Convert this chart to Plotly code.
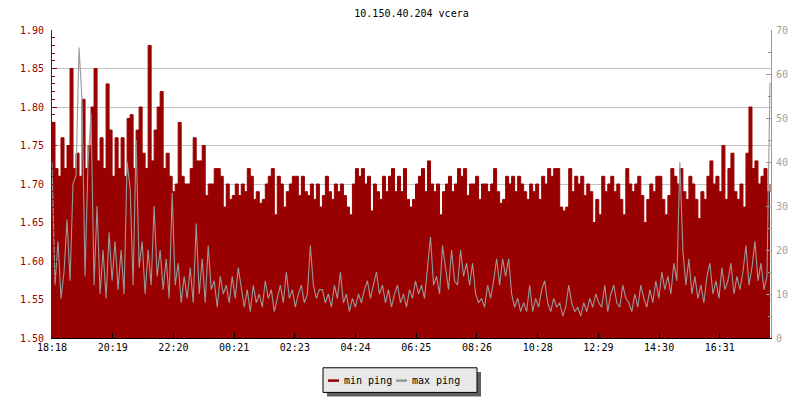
import plotly.graph_objects as go

# min ping (ms, left axis), one sample every 6 minutes starting 18:18
MIN_PING = [
    1.78, 1.72, 1.71, 1.76, 1.72, 1.75, 1.85, 1.72, 1.74, 1.71, 1.81, 1.72,
    1.75, 1.80, 1.85, 1.73, 1.76, 1.72, 1.83, 1.77, 1.71, 1.76, 1.72, 1.76,
    1.71, 1.785, 1.79, 1.72, 1.77, 1.80, 1.74, 1.72, 1.88, 1.73, 1.77, 1.80,
    1.82, 1.72, 1.74, 1.71, 1.69, 1.70, 1.78, 1.71, 1.70, 1.70, 1.72, 1.76,
    1.73, 1.73, 1.75, 1.685, 1.70, 1.70, 1.72, 1.72, 1.71, 1.67, 1.70, 1.68,
    1.685, 1.70, 1.685, 1.70, 1.69, 1.72, 1.71, 1.68, 1.69, 1.675, 1.68, 1.70,
    1.71, 1.72, 1.66, 1.71, 1.70, 1.67, 1.69, 1.70, 1.71, 1.71, 1.685, 1.71,
    1.69, 1.685, 1.70, 1.68, 1.70, 1.67, 1.685, 1.71, 1.69, 1.68, 1.70, 1.69,
    1.70, 1.685, 1.67, 1.66, 1.70, 1.72, 1.71, 1.72, 1.70, 1.71, 1.665, 1.70,
    1.69, 1.68, 1.71, 1.69, 1.71, 1.72, 1.69, 1.71, 1.69, 1.72, 1.68, 1.67,
    1.68, 1.70, 1.71, 1.72, 1.69, 1.73, 1.70, 1.69, 1.70, 1.66, 1.69, 1.70,
    1.71, 1.69, 1.70, 1.72, 1.71, 1.72, 1.685, 1.70, 1.70, 1.71, 1.68, 1.70,
    1.70, 1.69, 1.70, 1.72, 1.69, 1.675, 1.68, 1.71, 1.70, 1.71, 1.69, 1.71,
    1.70, 1.69, 1.68, 1.70, 1.69, 1.70, 1.68, 1.71, 1.70, 1.72, 1.71, 1.72,
    1.72, 1.67, 1.665, 1.67, 1.72, 1.69, 1.71, 1.70, 1.71, 1.685, 1.70, 1.69,
    1.65, 1.68, 1.66, 1.71, 1.69, 1.70, 1.71, 1.69, 1.70, 1.68, 1.66, 1.72,
    1.70, 1.69, 1.70, 1.71, 1.685, 1.65, 1.68, 1.70, 1.69, 1.71, 1.71, 1.68,
    1.66, 1.685, 1.72, 1.71, 1.70, 1.72, 1.69, 1.68, 1.71, 1.70, 1.68, 1.655,
    1.69, 1.68, 1.71, 1.73, 1.70, 1.71, 1.69, 1.75, 1.68, 1.72, 1.74, 1.69,
    1.68, 1.70, 1.67, 1.74, 1.80, 1.72, 1.73, 1.70, 1.71, 1.72, 1.69, 1.70,
]

# max ping (ms, right axis), same samples
MAX_PING = [
    40, 12, 22, 9, 15, 27, 13, 35, 37, 66, 54, 14,
    40, 51, 12, 30, 10, 20, 9, 24, 13, 22, 11, 20,
    10, 40, 34, 12, 45, 16, 22, 10, 20, 12, 30, 14,
    20, 11, 18, 9, 33, 12, 17, 8, 14, 9, 16, 8,
    26, 10, 18, 8, 21, 11, 13, 7, 14, 10, 12, 8,
    14, 9, 16, 12, 7, 11, 6, 12, 8, 10, 7, 13,
    9, 11, 6, 9, 12, 8, 15, 9, 11, 7, 10, 12,
    8, 10, 21, 12, 9, 11, 11, 8, 10, 7, 12, 9,
    15, 8, 10, 6, 9, 7, 10, 8, 11, 13, 9, 12,
    15, 10, 12, 8, 11, 7, 10, 12, 8, 10, 7, 11,
    9, 13, 10, 12, 9, 16, 23, 12, 14, 10, 21, 16,
    11, 20, 13, 12, 20, 14, 17, 12, 17, 10, 8, 9,
    7, 12, 9, 13, 18, 12, 18, 14, 18, 10, 7, 9,
    6, 8, 6, 12, 6, 9, 7, 11, 13, 8, 6, 9,
    7, 8, 5, 7, 12, 8, 6, 7, 5, 8, 6, 9,
    7, 10, 8, 7, 12, 6, 10, 12, 8, 7, 12, 9,
    8, 6, 10, 7, 12, 9, 7, 11, 8, 13, 9, 15,
    11, 14, 10, 17, 13, 40, 20, 12, 18, 10, 14, 9,
    12, 8, 14, 17, 10, 13, 9, 16, 11, 13, 17, 10,
    14, 11, 15, 21, 12, 16, 22, 13, 17, 11, 14, 58,
]

SAMPLE_MINUTES = 6
X_TICK_LABELS = ["18:18", "20:19", "22:20", "00:21", "02:23", "04:24",
                 "06:25", "08:26", "10:28", "12:29", "14:30", "16:31"]
X_TICK_STEP = 121.25  # minutes between the time labels
LEFT_TICKS = [1.50, 1.55, 1.60, 1.65, 1.70, 1.75, 1.80, 1.85, 1.90]
RIGHT_TICKS = [0, 10, 20, 30, 40, 50, 60, 70]

RED = "#990000"
GRAY = "#999999"
FONT = "DejaVu Sans Mono"

# the page adds an 8px body margin, so the figure is drawn 8px smaller
PAGE_OFFSET = 8
FIG_W, FIG_H = 800 - PAGE_OFFSET, 400 - PAGE_OFFSET
# plot area in page pixels, used to place the hand-drawn legend
PLOT_L, PLOT_R, PLOT_T, PLOT_B = 51, 770, 30, 330


def px(x):
    return (x - PLOT_L) / (PLOT_R - PLOT_L)


def py(y):
    return (PLOT_B - y) / (PLOT_B - PLOT_T)


minutes = [i * SAMPLE_MINUTES for i in range(len(MIN_PING))]

fig = go.Figure()
fig.add_trace(go.Scatter(
    x=minutes, y=MIN_PING, name="min ping", mode="lines",
    line=dict(color=RED, width=1, shape="hv"),
    fill="tozeroy", fillcolor=RED,
))
fig.add_trace(go.Scatter(
    x=minutes, y=MAX_PING, name="max ping", mode="lines", yaxis="y2",
    line=dict(color=GRAY, width=1.1),
))

# legend box drawn by hand (with drop shadow)
fig.add_shape(type="rect", xref="paper", yref="paper",
              x0=px(326), x1=px(480), y0=py(387), y1=py(363),
              fillcolor="#606060", line=dict(width=0))
fig.add_shape(type="rect", xref="paper", yref="paper",
              x0=px(322), x1=px(476), y0=py(383), y1=py(359),
              fillcolor="#e8e8e8", line=dict(color="black", width=1))
for x0, color, label in [(327, RED, "min ping"), (395, GRAY, "max ping")]:
    fig.add_shape(type="line", xref="paper", yref="paper",
                  x0=px(x0), x1=px(x0 + 11), y0=py(371.5), y1=py(371.5),
                  line=dict(color=color, width=2.5))
    fig.add_annotation(text=label, xref="paper", yref="paper",
                       x=px(x0 + 14), y=py(371), xanchor="left", yanchor="middle",
                       showarrow=False, font=dict(family=FONT, size=10, color="black"))

fig.update_layout(
    width=FIG_W, height=FIG_H,
    margin=dict(l=PLOT_L - PAGE_OFFSET, r=800 - PLOT_R - PAGE_OFFSET,
                t=PLOT_T - PAGE_OFFSET, b=400 - PLOT_B - PAGE_OFFSET),
    paper_bgcolor="white", plot_bgcolor="white",
    showlegend=False,
    font=dict(family=FONT, size=10, color="black"),
    title=dict(text="10.150.40.204 vcera", x=0.5, xref="paper",
               y=1 - (13 - PAGE_OFFSET) / FIG_H, yanchor="middle",
               font=dict(family=FONT, size=10, color="black")),
    xaxis=dict(
        range=[0, 1436], tickmode="array",
        tickvals=[k * X_TICK_STEP for k in range(len(X_TICK_LABELS))],
        ticktext=X_TICK_LABELS,
        ticks="inside", ticklen=5, tickcolor="black",
        showline=True, linecolor="black", linewidth=1,
        showgrid=False, zeroline=False,
        tickfont=dict(family=FONT, size=10, color="black"),
    ),
    yaxis=dict(
        range=[1.5, 1.9], tickmode="array", tickvals=LEFT_TICKS,
        tickformat=".2f",
        ticks="inside", ticklen=5, tickcolor=RED,
        minor=dict(dtick=0.01, tick0=1.5, ticks="inside", ticklen=3,
                   tickcolor=RED, showgrid=False),
        showline=True, linecolor=RED, linewidth=1,
        showgrid=True, gridcolor="#c4c4c4", gridwidth=1,
        zeroline=False, ticklabelstandoff=5,
        tickfont=dict(family=FONT, size=10, color=RED),
    ),
    yaxis2=dict(
        range=[0, 70], overlaying="y", side="right",
        tickmode="array", tickvals=RIGHT_TICKS,
        ticks="inside", ticklen=5, tickcolor=GRAY,
        minor=dict(dtick=5, tick0=0, ticks="inside", ticklen=3,
                   tickcolor=GRAY, showgrid=False),
        showline=True, linecolor=GRAY, linewidth=1,
        showgrid=False, zeroline=False, ticklabelstandoff=2,
        tickfont=dict(family=FONT, size=10, color="#a0a0a0"),
    ),
)

fig.write_html("out.html")
